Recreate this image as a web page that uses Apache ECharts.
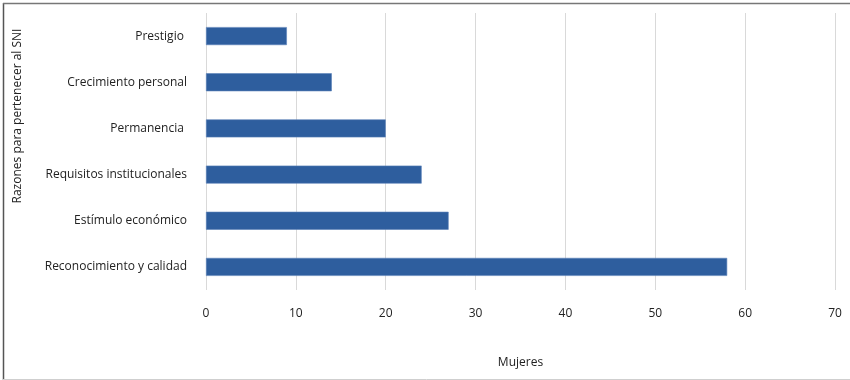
<!DOCTYPE html>
<html>
<head>
<meta charset="utf-8">
<script src="https://cdn.jsdelivr.net/npm/echarts@6/dist/echarts.min.js"></script>
<style>
  html, body { margin: 0; padding: 0; background: #ffffff; }
  #chart { width: 850px; height: 380px; }
</style>
</head>
<body>
<div id="chart"></div>
<script>
// Reasons for joining the SNI, counted among women
const categories = [
  'Reconocimiento y calidad',
  'Estímulo económico',
  'Requisitos institucionales',
  'Permanencia ',
  'Crecimiento personal',
  'Prestigio '
];
const mujeres = [58, 27, 24, 20, 14, 9];
const xTicks = { min: 0, max: 70, interval: 10 };
const xTitle = 'Mujeres';
const yTitle = 'Razones para pertenecer al SNI';

const font = '"Open Sans", "Noto Sans", sans-serif';
const chart = echarts.init(document.getElementById('chart'), null, { renderer: 'canvas' });

chart.setOption({
  animation: false,
  backgroundColor: '#ffffff',
  grid: { left: 206, right: 15, top: 13, bottom: 90, containLabel: false },
  xAxis: {
    type: 'value',
    min: xTicks.min,
    max: xTicks.max,
    interval: xTicks.interval,
    name: xTitle,
    nameLocation: 'middle',
    nameGap: 67,
    nameTextStyle: { fontFamily: font, fontSize: 12, color: '#222' },
    axisLine: { show: false },
    axisTick: { show: false },
    axisLabel: { margin: 18, fontFamily: font, fontSize: 12, color: '#222' },
    splitLine: { show: true, lineStyle: { color: '#d9d9d9', width: 1 } }
  },
  yAxis: {
    type: 'category',
    data: categories,
    axisLine: { show: false },
    axisTick: { show: false },
    axisLabel: { margin: 19, fontFamily: font, fontSize: 12, color: '#222' },
    splitLine: { show: false }
  },
  series: [{
    type: 'bar',
    data: mujeres,
    barWidth: 18,
    itemStyle: { color: '#2e5e9e', borderColor: '#5b82b8', borderWidth: 0.6 }
  }],
  graphic: [
    {
      type: 'text',
      x: 18,
      y: 116,
      rotation: Math.PI / 2,
      style: {
        text: yTitle,
        fill: '#222',
        font: '12px ' + font,
        align: 'center',
        verticalAlign: 'middle'
      }
    },
    { type: 'line', shape: { x1: 3.5, y1: 3, x2: 3.5, y2: 380 }, style: { stroke: '#555', lineWidth: 1.5 } },
    { type: 'line', shape: { x1: 3, y1: 3.5, x2: 850, y2: 3.5 }, style: { stroke: '#777', lineWidth: 1.5 } },
    { type: 'line', shape: { x1: 3, y1: 379.5, x2: 850, y2: 379.5 }, style: { stroke: '#cfcfcf', lineWidth: 1 } }
  ]
});
</script>
</body>
</html>
